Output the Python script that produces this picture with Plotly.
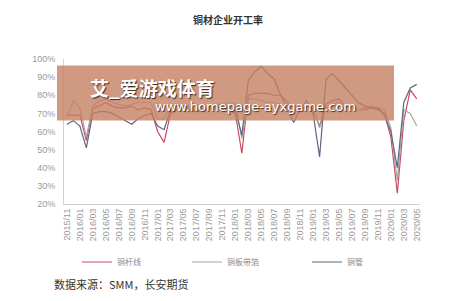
import plotly.graph_objects as go

months = [
    "2015/11", "2015/12",
    "2016/01", "2016/02", "2016/03", "2016/04", "2016/05", "2016/06",
    "2016/07", "2016/08", "2016/09", "2016/10", "2016/11", "2016/12",
    "2017/01", "2017/02", "2017/03", "2017/04", "2017/05", "2017/06",
    "2017/07", "2017/08", "2017/09", "2017/10", "2017/11", "2017/12",
    "2018/01", "2018/02", "2018/03", "2018/04", "2018/05", "2018/06",
    "2018/07", "2018/08", "2018/09", "2018/10", "2018/11", "2018/12",
    "2019/01", "2019/02", "2019/03", "2019/04", "2019/05", "2019/06",
    "2019/07", "2019/08", "2019/09", "2019/10", "2019/11", "2019/12",
    "2020/01", "2020/02", "2020/03", "2020/04", "2020/05",
]

rod_wire = [69, 69, 69, 55, 73, 74, 76, 74, 73, 73, 74, 72, 73, 72,
            60, 54, 70, 72, 73, 72, 71, 72, 73, 73, 74, 72,
            70, 48, 80, 81, 81, 81, 80, 80, 76, 72, 73, 74,
            72, 63, 75, 77, 78, 74, 73, 72, 72, 73, 72, 70,
            57, 26, 66, 83, 78]

plate_strip = [68, 77, 73, 57, 74, 77, 78, 76, 75, 74, 75, 76, 76, 76,
               67, 67, 74, 75, 74, 73, 72, 73, 74, 75, 75, 76,
               75, 56, 78, 78, 77, 76, 76, 75, 73, 72, 73, 74,
               73, 62, 73, 75, 76, 74, 73, 72, 73, 74, 73, 72,
               62, 33, 72, 70, 63]

tube = [64, 66, 63, 51, 70, 71, 71, 70, 68, 66, 64, 67, 69, 70,
        63, 61, 72, 74, 73, 72, 71, 72, 72, 73, 75, 74,
        72, 58, 88, 93, 96, 92, 89, 80, 72, 65, 72, 77,
        70, 46, 89, 92, 88, 84, 80, 76, 74, 73, 73, 69,
        60, 40, 76, 84, 86]

series_names = ["铜杆线", "铜板带箔", "铜管"]
series_colors = ["#CC4A63", "#A8A8A8", "#5C6680"]
legend_ids = ["legend", "legend2", "legend3"]
legend_left_px = [77, 187, 307]

W, H = 450, 301
L, R, T, B = 64, 30, 59, 97
pw, ph = W - L - R, H - T - B

def px(x):
    return (x - L) / pw

def py(y):
    return (H - B - y) / ph

fig = go.Figure()
for name, vals, col, lg in zip(series_names, [rod_wire, plate_strip, tube], series_colors, legend_ids):
    fig.add_trace(go.Scatter(x=months, y=vals, mode="lines", name=name, legend=lg,
                             line=dict(color=col, width=1.2)))

legend_common = dict(orientation="h", xanchor="left", yanchor="middle", y=py(262),
                     itemwidth=30, font=dict(size=8, color="#888888"),
                     bgcolor="rgba(0,0,0,0)")

fig.update_layout(
    width=W, height=H,
    margin=dict(l=L, r=R, t=T, b=B),
    paper_bgcolor="white", plot_bgcolor="white",
    font=dict(family="Noto Sans CJK SC, Noto Sans, sans-serif"),
    showlegend=True,
    legend=dict(x=px(legend_left_px[0]), **legend_common),
    legend2=dict(x=px(legend_left_px[1]), **legend_common),
    legend3=dict(x=px(legend_left_px[2]), **legend_common),
)

fig.update_xaxes(
    type="category", tickmode="array", tickvals=months[::2], ticktext=months[::2],
    tickangle=-90, tickfont=dict(size=9, color="#9a9a9a", family="Liberation Sans, Arial, sans-serif"),
    showgrid=False, showline=True, linecolor="#d0d0d0", linewidth=1,
    ticks="", range=[-0.45, 54.5],
)
fig.update_yaxes(
    range=[20, 100], dtick=10, ticksuffix="%",
    tickfont=dict(size=9, color="#9a9a9a", family="Liberation Sans, Arial, sans-serif"),
    showgrid=False, showline=True, linecolor="#d0d0d0", linewidth=1,
    ticks="outside", ticklen=6, tickcolor="rgba(0,0,0,0)", zeroline=False,
)

# watermark overlay
fig.add_shape(type="rect", xref="paper", yref="paper",
              x0=px(57), x1=px(394), y0=py(120.5), y1=py(65.5),
              fillcolor="rgb(196,128,98)", opacity=0.8, line=dict(width=0), layer="above")

fig.add_annotation(text="<b>艾_爱游戏体育</b>", xref="paper", yref="paper",
                   x=px(88), y=py(87), xanchor="left", yanchor="middle", showarrow=False,
                   font=dict(size=19, color="white", family="Noto Sans CJK SC",
                             shadow="1px 1px 1px #3a2a22"))
fig.add_annotation(text="www.homepage-ayxgame.com", xref="paper", yref="paper",
                   x=px(153), y=py(106), xanchor="left", yanchor="middle", showarrow=False,
                   font=dict(size=13, color="white", family="DejaVu Sans",
                             shadow="1px 1px 1px #3a2a22"))

# title
fig.add_annotation(text="<b>铜材企业开工率</b>", xref="paper", yref="paper",
                   x=px(228), y=py(20), xanchor="center", yanchor="middle", showarrow=False,
                   font=dict(size=10, color="#333333"))

# footer
fig.add_annotation(text="数据来源：SMM，长安期货", xref="paper", yref="paper",
                   x=px(52), y=py(284), xanchor="left", yanchor="middle", showarrow=False,
                   font=dict(size=11, color="#333333"))

fig.write_html("out.html")
